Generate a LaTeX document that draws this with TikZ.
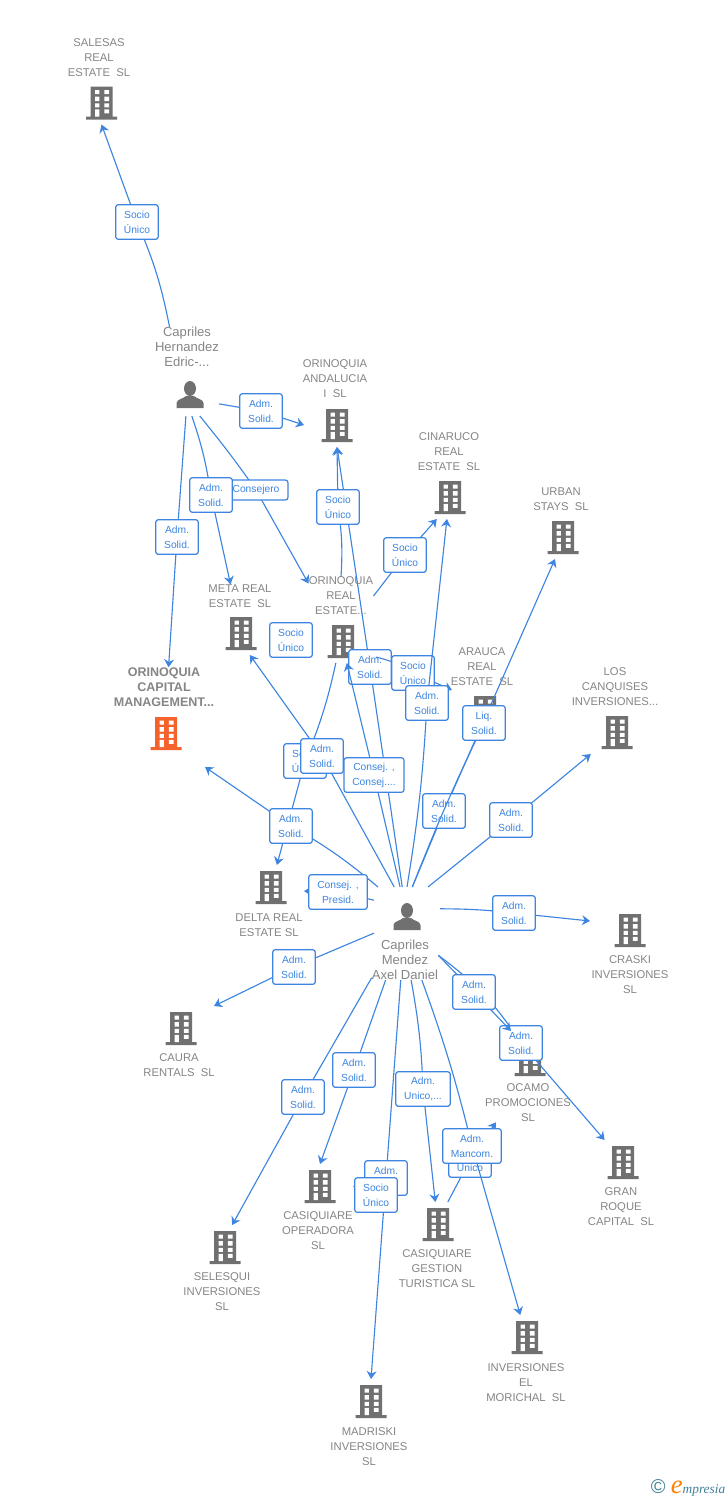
\documentclass[tikz,border=0pt]{standalone}
\usepackage{fontspec}
\setmainfont{Liberation Sans}
\usetikzlibrary{arrows.meta}

\definecolor{linkblue}{HTML}{3D85E0}
\definecolor{iconc}{HTML}{707070}
\definecolor{namec}{HTML}{858585}
\definecolor{hotc}{HTML}{F4622D}
\definecolor{logoc}{HTML}{3F7F98}

\newcommand{\firmshape}[1]{%
  \begin{scope}[shift={(path picture bounding box.center)}]
  \fill[#1] (-15.5,14) rectangle (15.5,17) (-11,-16) rectangle (11,14);
  \fill[white] (-6.5,-12.5) rectangle (-2.2,-8.5) (2.8,-12.5) rectangle (7.5,-8.5)
               (-6.5,-5.8) rectangle (-2.2,-1.5) (2.8,-5.8) rectangle (7.5,-1.5)
               (-6.5,0.8) rectangle (-2.2,4.8) (2.8,0.8) rectangle (7.5,4.8)
               (-6.5,6.8) rectangle (-2.2,14) (2.8,6.8) rectangle (7.5,10.8);
  \end{scope}}
\newcommand{\personshape}{%
  \begin{scope}[shift={(path picture bounding box.center)}]
  \fill[iconc] (0,-6.5) ellipse (6 and 7.5);
  \fill[iconc] (-13.5,13) -- (-13.5,8) .. controls (-13,4) and (-7,4) .. (-4,1)
    -- (4,1) .. controls (7,4) and (13,4) .. (13.5,8) -- (13.5,13) -- cycle;
  \end{scope}}

\tikzset{
  firm/.style={inner sep=0pt,outer sep=0pt,minimum width=49.5pt,minimum height=33pt,
    path picture={\firmshape{#1}}},
  firm/.default=iconc,
  person/.style={inner sep=0pt,outer sep=0pt,minimum width=49.5pt,minimum height=45pt,
    path picture={\personshape}},
  firmname/.style={inner sep=0pt,align=center,text=namec,yshift=-.75pt,font=\fontsize{8.45}{11.25}\selectfont},
  personname/.style={inner sep=0pt,align=center,text=namec,yshift=-.75pt,font=\fontsize{9.8}{11.25}\selectfont},
  tag/.style={draw=linkblue,line width=.9pt,fill=white,rounded corners=2pt,text=linkblue,
    align=center,inner sep=1pt,minimum width=32pt,minimum height=26pt,
    font=\fontsize{7.7}{11.25}\selectfont},
  link/.style={draw=linkblue,line width=.85pt},
  linkto/.style={link,-{Stealth[length=6pt,width=7.5pt,inset=2pt]}}
}

\begin{document}
\begin{tikzpicture}[x=.75pt,y=-.75pt]
\useasboundingbox (0,0) rectangle (728,1500);

% companies
\node[firm] (salesas) at (101.5,102.5) {};
\node[firm] (andalucia) at (337,425) {};
\node[firm] (cinaruco) at (450,497) {};
\node[firm] (urban) at (563,537) {};
\node[firm] (meta) at (241,633) {};
\node[firm] (oreal) at (343,641) {};
\node[firm] (arauca) at (485,712) {};
\node[firm=hotc] (capital) at (166,733) {};
\node[firm] (canquises) at (617,732) {};
\node[firm] (delta) at (271,887) {};
\node[firm] (craski) at (630,930) {};
\node[firm] (caura) at (181,1028) {};
\node[firm] (ocamo) at (530,1059) {};
\node[firm] (gran) at (623,1162) {};
\node[firm] (selesqui) at (225,1247) {};
\node[firm] (casiop) at (320,1186) {};
\node[firm] (gestion) at (438,1224) {};
\node[firm] (morichal) at (527,1337) {};
\node[firm] (madriski) at (371,1401) {};

% people
\node[person,minimum width=43.5pt,minimum height=31.5pt] (edric) at (190,395) {};
\node[person] (axel) at (407,917) {};

% names
\node[firmname] (salesastxt) at (99,57) {SALESAS\\REAL\\ESTATE~~SL};
\node[personname] (edrictxt) at (187,346) {Capriles\\Hernandez\\Edric-...};
\node[firmname] (andaluciatxt) at (335,378) {ORINOQUIA\\ANDALUCIA\\I~~SL};
\node[firmname] (cinarucotxt) at (449,451) {CINARUCO\\REAL\\ESTATE~~SL};
\node[firmname] (urbantxt) at (561,498) {URBAN\\STAYS~~SL};
\node[firmname] (metatxt) at (240,595) {META REAL\\ESTATE~~SL};
\node[firmname] (orealtxt) at (341,595) {ORINOQUIA\\REAL\\ESTATE...};
\node[firmname] (araucatxt) at (482,666) {ARAUCA\\REAL\\ESTATE~~SL};
\node[firmname,font=\fontsize{9.4}{11.25}\selectfont\bfseries] (capitaltxt) at (164,686) {ORINOQUIA\\CAPITAL\\MANAGEMENT...};
\node[firmname] (canquisestxt) at (615,686) {LOS\\CANQUISES\\INVERSIONES...};
\node[firmname] (deltatxt) at (269,924) {DELTA REAL\\ESTATE SL};
\node[firmname] (craskitxt) at (630,974) {CRASKI\\INVERSIONES\\SL};
\node[firmname] (caura-txt) at (179,1064) {CAURA\\RENTALS~~SL};
\node[firmname] (ocamotxt) at (528,1102) {OCAMO\\PROMOCIONES\\SL};
\node[firmname] (grantxt) at (621,1206) {GRAN\\ROQUE\\CAPITAL~~SL};
\node[firmname] (selesquitxt) at (222,1291) {SELESQUI\\INVERSIONES\\SL};
\node[firmname] (casioptxt) at (318,1230) {CASIQUIARE\\OPERADORA\\SL};
\node[firmname] (gestiontxt) at (437,1268) {CASIQUIARE\\GESTION\\TURISTICA SL};
\node[firmname] (morichaltxt) at (526,1382) {INVERSIONES\\EL\\MORICHAL~~SL};
\node[firmname] (madriskitxt) at (369,1446) {MADRISKI\\INVERSIONES\\SL};
\node[personname] (axeltxt) at (405,959) {Capriles\\Mendez\\Axel Daniel};

% first owner
\draw[linkto] (edrictxt.131) to[bend right=6] (137,222) node[tag] (t1) {Socio\\Único} -- (salesas.south);
\draw[linkto] (edric.343) -- (261,411) node[tag] (t2) {Adm.\\Solid.} -- (andalucia.west);
\draw[linkto] (edric.295) to[bend left=2] (256,490) node[tag,minimum width=48pt,minimum height=15pt] (t3) {Consejero} -- (orealtxt.159);
\draw[linkto] (edric.275) to[bend left=5] (211,495) node[tag] (t4) {Adm.\\Solid.} -- (metatxt.129);
\draw[linkto] (edric.259) -- (177,537) node[tag] (t5) {Adm.\\Solid.} -- (capitaltxt.77);

% second owner, upper side
\draw[linkto] (axel.99) -- (370,667) node[tag] (t7) {Adm.\\Solid.} -- (andalucia.south);
\draw[linkto] (orealtxt.north) to[bend right=6] (338,507) node[tag] (t6) {Socio\\Único} -- (andalucia.south);
\draw[linkto] (orealtxt.east) -- (405,555) node[tag] (t8) {Socio\\Único} -- (cinaruco.239);
\draw[linkto] (oreal.334) to[bend left=10] (413,673) node[tag] (t9) {Socio\\Único} -- (arauca.north west);
\draw[linkto] (axel.90) to[bend right=3] (427,703) node[tag] (t10) {Adm.\\Solid.} -- (cinaruco.262);
\draw[linkto] (oreal.252) to[bend left=5] (305,761) node[tag] (t12) {Socio\\Único} -- (delta.75);
\draw[linkto] (axel.103) -- (374,775) node[tag,minimum width=45pt] (t11) {Consej. ,\\Consej....} -- (oreal.280);
\draw[linkto] (axel.113) -- (322,756) node[tag] (t13) {Adm.\\Solid.} -- (meta.292);
\draw[linkto] (axel.134) to[bend right=5] (291,826) node[tag] (t14) {Adm.\\Solid.} -- ([shift={(6,12)}]capital.south east);
\draw[linkto] (axel.153) -- (338,892) node[tag,minimum width=44pt] (t15) {Consej. ,\\Presid.} -- (delta.353);
\draw[linkto] (axel.80) -- (444,811) node[tag] (t16) {Adm.\\Solid.} -- (urban.250);
\draw[linkto] (axel.80) to[bend left=2] (484,723) node[tag] (t17) {Liq.\\Solid.} -- (arauca.south);
\draw[linkto] (axel.55) -- (511,820) node[tag] (t18) {Adm.\\Solid.} -- (canquises.220);

% second owner, lower side
\draw[linkto] (axel.14) to[bend left=3] (514,913) node[tag] (t19) {Adm.\\Solid.} -- ([shift={(-7,-9)}]craski.west);
\draw[linkto] (axel.206) -- (294,967) node[tag] (t20) {Adm.\\Solid.} -- (caura.north east);
\draw[linkto] (axeltxt.208) -- (303,1097) node[tag] (t21) {Adm.\\Solid.} -- (selesqui.72);
\draw[linkto] (axeltxt.226) -- (354,1070) node[tag] (t22) {Adm.\\Solid.} -- (casiop.north);
\draw[linkto] (axeltxt.258) -- (386,1178) node[tag] (t23) {Adm.\\} -- (madriski.north);
\draw[linkto] (376,1195) node[tag] (t24) {Socio\\Único} -- (casiop.east);
\draw[linkto] (axeltxt.287) to[bend left=4] (423,1089) node[tag,minimum width=41pt] (t25) {Adm.\\Unico,...} -- (gestion.97);
\draw[linkto] (gestion.66) -- (470,1160) node[tag] (t26) {Socio\\Único} -- (ocamotxt.211);
\draw[linkto] (axeltxt.310) to[bend left=3] (472,1146) node[tag,minimum width=44pt] (t27) {Adm.\\Mancom.} -- (morichal.107);
\draw[linkto] (axeltxt.8) to[bend left=10] (521,1043) node[tag] (t28) {Adm.\\Solid.} -- (gran.130);
\draw[linkto] (axeltxt.8) -- (474,992) node[tag] (t29) {Adm.\\Solid.} -- ([shift={(-19,-6)}]ocamo.north);

% box with no line
\node[tag] (t30) at (291,640) {Socio\\Único};

% logo
\node[inner sep=0pt,text=logoc] (logo) at (688,1488) {\fontsize{15}{15}\selectfont \textcopyright\hspace{4pt}{\fontspec{Liberation Serif}\itshape\textcolor{orange}{\fontsize{20}{15}\selectfont e}\fontsize{10}{15}\selectfont mpresia}};
\end{tikzpicture}
\end{document}
